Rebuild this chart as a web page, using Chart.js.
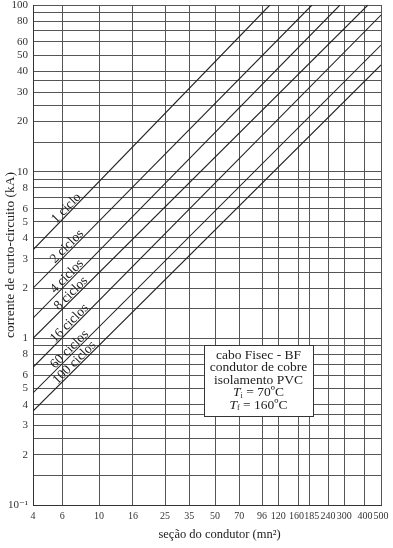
<!DOCTYPE html>
<html><head><meta charset="utf-8">
<script src="https://cdn.jsdelivr.net/npm/chart.js@4/dist/chart.umd.min.js"></script>
<style>html,body{margin:0;padding:0;background:#fff}</style>
</head><body>
<canvas id="c" width="393" height="548"></canvas>
<script>
// ---- data ----
const xTicks = [4, 6, 10, 16, 25, 35, 50, 70, 96, 120, 160, 185, 240, 300, 400, 500];
const xTickTexts = ['4','6','10','16','25','35','50','70','96','120','160\u2002','\u2002185','240','300','400','500'];
const yGrid = [0.1,0.15,0.2,0.25,0.3,0.35,0.4,0.5,0.6,0.7,0.8,0.9,1,1.5,2,2.5,3,3.5,4,5,6,7,8,9,10,15,20,25,30,35,40,50,60,70,80,90,100];
const yLabelValues = [0.1,0.2,0.3,0.4,0.5,0.6,0.8,1,2,3,4,5,6,8,10,20,30,40,50,60,80,100];
const yLabelTexts = ['10\u207B\u00B9','2','3','4','5','6','8','1','2','3','4','5','6','8','10','20','30','40','50','60','80','100'];
const seriesNames = ['1 ciclo','2 ciclos','4 ciclos','8 ciclos','16 ciclos','60 ciclos','100 ciclos'];
const startSection = [4, 4, 4, 4, 4, 4, 4];
const startCurrent = [3.4, 2.0, 1.32, 1.0, 0.67, 0.47, 0.366];
const endSection = [107, 192, 283, 417, 500, 500, 500];
const endCurrent = [100, 100, 100, 100, 87, 57.5, 43.7];
const labelSection = [5.6, 5.5, 5.5, 5.8, 5.5, 5.5, 5.7];
const boxLines = ['cabo Fisec - BF', 'condutor de cobre', 'isolamento PVC'];
const tempLines = [['i', ' = 70\u00BAC'], ['f', ' = 160\u00BAC']];

const SERIF = '"Liberation Serif", "DejaVu Serif", serif';
const INK = '#222';

const labelPlugin = {
  id: 'lineLabels',
  afterDatasetsDraw(chart) {
    const ctx = chart.ctx, xs = chart.scales.x, ys = chart.scales.y;
    ctx.save();
    ctx.fillStyle = INK;
    ctx.font = '13.5px ' + SERIF;
    ctx.textAlign = 'left';
    ctx.textBaseline = 'alphabetic';
    seriesNames.forEach((name, i) => {
      const x1 = xs.getPixelForValue(startSection[i]), y1 = ys.getPixelForValue(startCurrent[i]);
      const x2 = xs.getPixelForValue(endSection[i]), y2 = ys.getPixelForValue(endCurrent[i]);
      const ang = Math.atan2(y2 - y1, x2 - x1);
      const px = xs.getPixelForValue(labelSection[i]);
      const t = (px - x1) / (x2 - x1);
      const py = y1 + t * (y2 - y1);
      ctx.save();
      ctx.translate(px, py);
      ctx.rotate(ang);
      ctx.fillText(name, 0, -1.5);
      ctx.restore();
    });
    ctx.restore();
  }
};

const boxPlugin = {
  id: 'infoBox',
  afterDraw(chart) {
    const ctx = chart.ctx, a = chart.chartArea;
    const w = a.right - a.left, h = a.bottom - a.top;
    const L = a.left + w * 0.491, R = a.left + w * 0.805;
    const T = a.top + h * 0.68, B = a.top + h * 0.822;
    ctx.save();
    ctx.fillStyle = '#fff';
    ctx.fillRect(L, T, R - L, B - T);
    ctx.strokeStyle = '#333';
    ctx.lineWidth = 1;
    ctx.strokeRect(Math.round(L) + 0.5, Math.round(T) + 0.5, Math.round(R - L), Math.round(B - T));
    const cx = (L + R) / 2;
    ctx.fillStyle = INK;
    ctx.textBaseline = 'middle';
    ctx.textAlign = 'center';
    ctx.font = '13.5px ' + SERIF;
    const step = 12.5;
    let y = T + 10;
    boxLines.forEach(s => { ctx.fillText(s, cx, y); y += step; });
    tempLines.forEach(([sub, rest]) => {
      ctx.font = 'italic 13.5px ' + SERIF;
      const wT = ctx.measureText('T').width;
      ctx.font = '8px ' + SERIF;
      const wS = ctx.measureText(sub).width;
      ctx.font = '13.5px ' + SERIF;
      const wR = ctx.measureText(rest).width;
      let x = cx - (wT + wS + wR) / 2;
      ctx.textAlign = 'left';
      ctx.font = 'italic 13.5px ' + SERIF;
      ctx.fillText('T', x, y); x += wT;
      ctx.font = '8px ' + SERIF;
      ctx.fillText(sub, x, y + 3); x += wS;
      ctx.font = '13.5px ' + SERIF;
      ctx.fillText(rest, x, y);
      y += step;
    });
    ctx.restore();
  }
};

new Chart(document.getElementById('c'), {
  type: 'line',
  data: {
    datasets: seriesNames.map((n, i) => ({
      label: n,
      data: [{x: startSection[i], y: startCurrent[i]}, {x: endSection[i], y: endCurrent[i]}],
      borderColor: INK, borderWidth: 1.1, pointRadius: 0, fill: false, tension: 0
    }))
  },
  options: {
    responsive: false, animation: false,
    layout: {padding: {left: 0, top: 5, right: 12, bottom: 0}},
    plugins: {legend: {display: false}, tooltip: {enabled: false}},
    scales: {
      x: {
        type: 'logarithmic', min: 4, max: 500,
        afterBuildTicks: s => { s.ticks = xTicks.map(v => ({value: v})); },
        ticks: {callback: v => { const k = xTicks.indexOf(v); return k >= 0 ? xTickTexts[k] : ''; },
                autoSkip: false, maxRotation: 0, minRotation: 0,
                font: {family: SERIF, size: 10}, color: '#333', padding: 5},
        grid: {color: '#555', lineWidth: 1, drawTicks: false},
        border: {color: '#333', width: 1},
        title: {display: true, text: '\u2002\u2002\u2002\u2002seção do condutor (mn²)', color: INK,
                font: {family: SERIF, size: 12.5}, padding: {top: 0, bottom: 6}},
        afterFit: s => { s.height = 43; s.paddingLeft = 0; s.paddingRight = 0; }
      },
      y: {
        type: 'logarithmic', min: 0.1, max: 100,
        afterBuildTicks: s => { s.ticks = yGrid.map(v => ({value: v})); },
        ticks: {
          callback: v => { const k = yLabelValues.findIndex(q => Math.abs(q - v) < 1e-9); return k >= 0 ? yLabelTexts[k] : ''; },
          autoSkip: false, font: {family: SERIF, size: 11}, color: '#333', padding: 5
        },
        grid: {color: '#555', lineWidth: 1, drawTicks: false},
        border: {color: '#333', width: 1},
        title: {display: true, text: 'corrente de curto-circuito (kA)', color: INK,
                font: {family: SERIF, size: 13.5}, padding: {top: 2, bottom: 0}},
        afterFit: s => { s.width = 33; s.paddingTop = 0; s.paddingBottom = 0; }
      }
    }
  },
  plugins: [labelPlugin, boxPlugin]
});
</script>
</body></html>
